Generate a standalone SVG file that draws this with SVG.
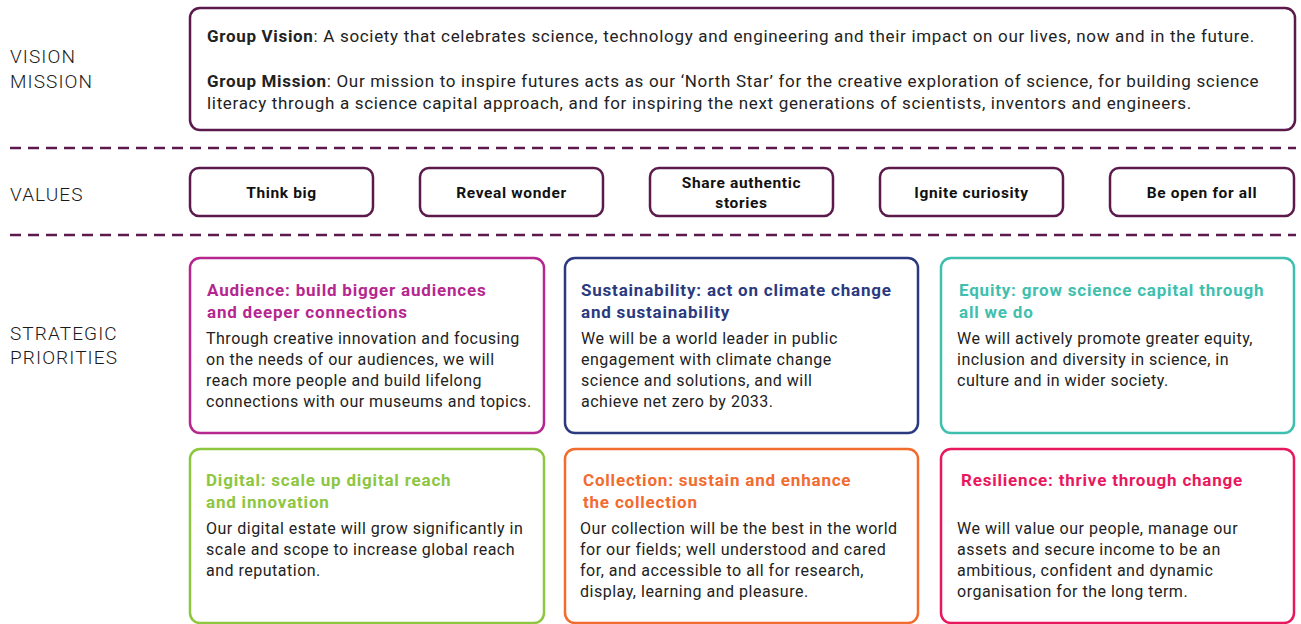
<svg xmlns="http://www.w3.org/2000/svg" width="1301" height="624" viewBox="0 0 1301 624">
  <style>
    text { font-family: Roboto, "Liberation Sans", sans-serif; }
    .side { font-size: 19px; fill: #1a1a1a; font-weight: 300; letter-spacing: 1.1px; }
    .frame { fill: #fff; stroke: #5b1a4b; stroke-width: 2.5; }
    .rule { stroke: #5b1a4b; stroke-width: 2.5; stroke-dasharray: 11 7; fill: none; }
    .txt { font-size: 17px; fill: #222; letter-spacing: 0.68px; }
    .b { font-weight: 700; }
    .val { font-size: 15.5px; font-weight: 700; fill: #111; text-anchor: middle; letter-spacing: 0.65px; }
    .ttl { font-size: 17px; font-weight: 700; letter-spacing: 0.8px; }
    .body { font-size: 16px; fill: #222; letter-spacing: 0.5px; }
  </style>

  <!-- section labels -->
  <g id="labels">
    <text class="side" x="10" y="63">VISION</text>
    <text class="side" x="10" y="88">MISSION</text>
    <text class="side" x="10" y="201">VALUES</text>
    <text class="side" x="10" y="340">STRATEGIC</text>
    <text class="side" x="10" y="364">PRIORITIES</text>
  </g>

  <!-- dashed separators -->
  <g id="connectors">
    <line class="rule" x1="10" y1="148" x2="1296" y2="148"/>
    <line class="rule" x1="10" y1="235" x2="1296" y2="235"/>
  </g>

  <!-- vision and mission -->
  <g id="vision-mission">
    <rect class="frame" x="190" y="8" width="1105" height="122" rx="10"/>
    <text class="txt" x="207" y="42"><tspan class="b">Group Vision</tspan>: A society that celebrates science, technology and engineering and their impact on our lives, now and in the future.</text>
    <text class="txt" x="207" y="87"><tspan class="b">Group Mission</tspan>: Our mission to inspire futures acts as our ‘North Star’ for the creative exploration of science, for building science</text>
    <text class="txt" x="207" y="109">literacy through a science capital approach, and for inspiring the next generations of scientists, inventors and engineers.</text>
  </g>

  <!-- values -->
  <g id="value-think-big">
    <rect class="frame" x="190" y="168" width="183" height="48" rx="9"/>
    <text class="val" x="281.5" y="198">Think big</text>
  </g>
  <g id="value-reveal-wonder">
    <rect class="frame" x="420" y="168" width="183" height="48" rx="9"/>
    <text class="val" x="511.5" y="198">Reveal wonder</text>
  </g>
  <g id="value-share-stories">
    <rect class="frame" x="650" y="168" width="183" height="48" rx="9"/>
    <text class="val" x="741.5" y="188">Share authentic</text>
    <text class="val" x="741.5" y="208">stories</text>
  </g>
  <g id="value-ignite-curiosity">
    <rect class="frame" x="880" y="168" width="183" height="48" rx="9"/>
    <text class="val" x="971.5" y="198">Ignite curiosity</text>
  </g>
  <g id="value-open-for-all">
    <rect class="frame" x="1110" y="168" width="184" height="48" rx="9"/>
    <text class="val" x="1202" y="198">Be open for all</text>
  </g>

  <!-- strategic priorities -->
  <g id="priority-audience">
    <rect x="190" y="258" width="354" height="175" rx="10" fill="#fff" stroke="#b5278f" stroke-width="2.5"/>
    <text class="ttl" fill="#b5278f" x="207" y="296">Audience: build bigger audiences</text>
    <text class="ttl" fill="#b5278f" x="207" y="318">and deeper connections</text>
    <text class="body" x="206" y="344">Through creative innovation and focusing</text>
    <text class="body" x="206" y="365">on the needs of our audiences, we will</text>
    <text class="body" x="206" y="386">reach more people and build lifelong</text>
    <text class="body" x="206" y="407">connections with our museums and topics.</text>
  </g>
  <g id="priority-sustainability">
    <rect x="565" y="258" width="353" height="175" rx="10" fill="#fff" stroke="#2b3a7f" stroke-width="2.5"/>
    <text class="ttl" fill="#2b3a7f" x="581" y="296">Sustainability: act on climate change</text>
    <text class="ttl" fill="#2b3a7f" x="581" y="318">and sustainability</text>
    <text class="body" x="581" y="344">We will be a world leader in public</text>
    <text class="body" x="581" y="365">engagement with climate change</text>
    <text class="body" x="581" y="386">science and solutions, and will</text>
    <text class="body" x="581" y="407">achieve net zero by 2033.</text>
  </g>
  <g id="priority-equity">
    <rect x="941" y="258" width="353" height="175" rx="10" fill="#fff" stroke="#3fbfae" stroke-width="2.5"/>
    <text class="ttl" fill="#3fbfae" x="959" y="296">Equity: grow science capital through</text>
    <text class="ttl" fill="#3fbfae" x="959" y="318">all we do</text>
    <text class="body" x="957" y="344">We will actively promote greater equity,</text>
    <text class="body" x="957" y="365">inclusion and diversity in science, in</text>
    <text class="body" x="957" y="386">culture and in wider society.</text>
  </g>
  <g id="priority-digital">
    <rect x="190" y="449" width="354" height="174" rx="10" fill="#fff" stroke="#8dc63f" stroke-width="2.5"/>
    <text class="ttl" fill="#8dc63f" x="206" y="486">Digital: scale up digital reach</text>
    <text class="ttl" fill="#8dc63f" x="206" y="508">and innovation</text>
    <text class="body" x="206" y="534">Our digital estate will grow significantly in</text>
    <text class="body" x="206" y="555">scale and scope to increase global reach</text>
    <text class="body" x="206" y="576">and reputation.</text>
  </g>
  <g id="priority-collection">
    <rect x="565" y="449" width="353" height="174" rx="10" fill="#fff" stroke="#f26b2f" stroke-width="2.5"/>
    <text class="ttl" fill="#f26b2f" x="583" y="486">Collection: sustain and enhance</text>
    <text class="ttl" fill="#f26b2f" x="583" y="508">the collection</text>
    <text class="body" x="580" y="534">Our collection will be the best in the world</text>
    <text class="body" x="580" y="555">for our fields; well understood and cared</text>
    <text class="body" x="580" y="576">for, and accessible to all for research,</text>
    <text class="body" x="580" y="597">display, learning and pleasure.</text>
  </g>
  <g id="priority-resilience">
    <rect x="941" y="449" width="353" height="174" rx="10" fill="#fff" stroke="#e8185e" stroke-width="2.5"/>
    <text class="ttl" fill="#e8185e" x="961" y="486">Resilience: thrive through change</text>
    <text class="body" x="957" y="534">We will value our people, manage our</text>
    <text class="body" x="957" y="555">assets and secure income to be an</text>
    <text class="body" x="957" y="576">ambitious, confident and dynamic</text>
    <text class="body" x="957" y="597">organisation for the long term.</text>
  </g>
</svg>
